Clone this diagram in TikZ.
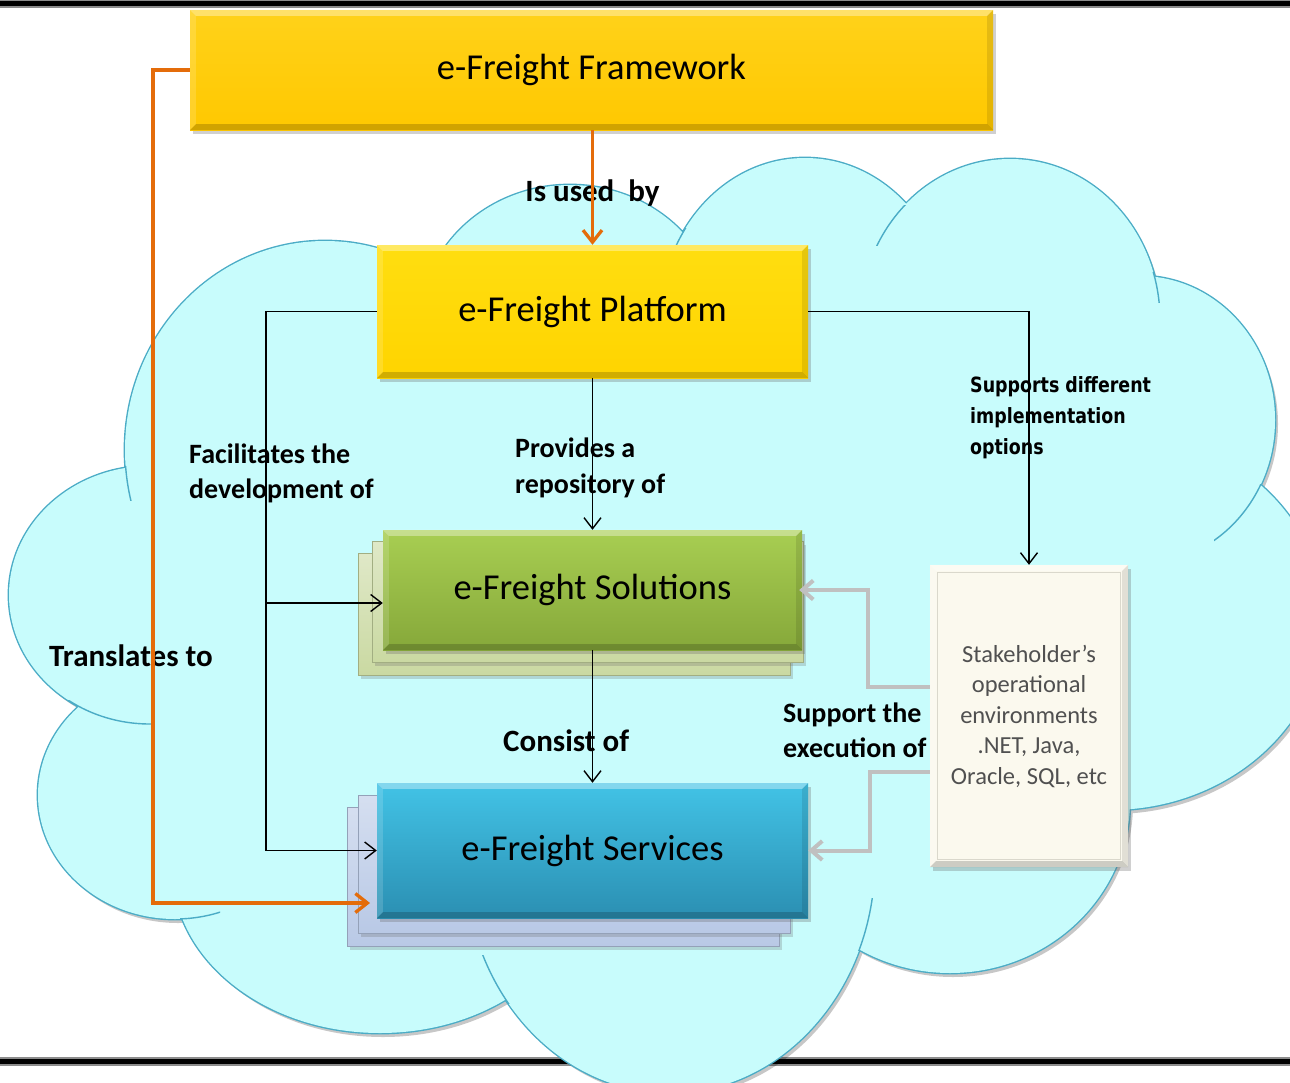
\documentclass[tikz,border=0pt]{standalone}
\usepackage{fontspec}
\setmainfont{Carlito}
\newfontfamily\vfont[FakeStretch=0.83]{DejaVu Sans}
\usetikzlibrary{arrows.meta,calc,shadows}
\definecolor{cloudfill}{RGB}{200,252,252}
\definecolor{cloudline}{RGB}{75,172,198}
\definecolor{orng}{RGB}{228,108,10}
\definecolor{gryarr}{RGB}{192,192,192}
\definecolor{fwtop}{RGB}{255,210,26}
\definecolor{fwbot}{RGB}{255,200,0}
\definecolor{pftop}{RGB}{255,222,16}
\definecolor{pfbot}{RGB}{255,212,0}
\definecolor{soltop}{RGB}{168,206,82}
\definecolor{solbot}{RGB}{134,168,58}
\definecolor{solcopy}{RGB}{202,217,162}
\definecolor{srvtop}{RGB}{66,195,230}
\definecolor{srvbot}{RGB}{43,143,178}
\definecolor{srvcopy}{RGB}{185,201,230}
\definecolor{stkfill}{RGB}{251,249,238}
\definecolor{stkline}{RGB}{218,216,204}
\definecolor{stktext}{RGB}{80,80,80}
\newcommand\mybevel[2]{%
 \fill[white,opacity=0.35] (#1.north west) -- (#1.north east) -- ($(#1.north east)+(-#2,#2)$) -- ($(#1.north west)+(#2,#2)$) -- cycle;
 \fill[white,opacity=0.15] (#1.north west) -- ($(#1.north west)+(#2,#2)$) -- ($(#1.south west)+(#2,-#2)$) -- (#1.south west) -- cycle;
 \fill[black,opacity=0.18] (#1.south west) -- (#1.south east) -- ($(#1.south east)+(-#2,-#2)$) -- ($(#1.south west)+(#2,-#2)$) -- cycle;
 \fill[black,opacity=0.10] (#1.north east) -- (#1.south east) -- ($(#1.south east)+(-#2,-#2)$) -- ($(#1.north east)+(-#2,#2)$) -- cycle;}
\tikzset{
 box/.style={rectangle, inner sep=0pt, font=\fontsize{36.5}{40}\selectfont, text=black,
   drop shadow={shadow xshift=3pt, shadow yshift=-4pt, opacity=0.3, fill=black!60}},
 copybox/.style={rectangle, inner sep=0pt, draw=#1!80!black, line width=0.6pt,
   top color=#1!60!white, bottom color=#1,
   drop shadow={shadow xshift=3pt, shadow yshift=-4pt, opacity=0.25, fill=black!60}},
 lblA/.style={inner sep=0pt, anchor=base west, font=\fontsize{28}{30}\selectfont\bfseries},
 lblB/.style={inner sep=0pt, anchor=base west, font=\fontsize{31}{33}\selectfont\bfseries},
 lblV/.style={inner sep=0pt, anchor=base west, font=\vfont\fontsize{21}{24}\selectfont\bfseries},
 blk/.style={draw=black, line width=1.4pt, -{Straight Barb[length=11pt,width=17pt]}},
 org/.style={draw=orng, line width=3.3pt, -{Straight Barb[length=12pt,width=19pt]}},
 gry/.style={draw=gryarr, line width=4pt, -{Straight Barb[length=11pt,width=19pt]}},
 cl/.style={draw=cloudline, line width=1.4pt}
}
\def\lobelist{325/450/200/209, 150/595/141/129, 175/795/137/124, 380/870/207/163, 670/860/205/233, 950/800/180/173, 1110/620/214/190, 1140/420/135/144, 1010/320/150/161, 805/320/145/162, 570/325/150/140}
\begin{document}
\begin{tikzpicture}[x=1pt,y=-1pt]
\useasboundingbox (0,0) rectangle (1290,1082);
\clip (0,0) rectangle (1290,1082);
\fill[white] (0,0) rectangle (1290,1082);
% frame bars
\fill[black!45] (0,0) rectangle (1290,8);
\fill[black] (0,1) rectangle (1290,6);
\fill[black!45] (0,1057) rectangle (1290,1066);
\fill[black] (0,1059) rectangle (1290,1064);
% cloud
\fill[black, opacity=0.22] foreach \x/\y/\a/\b in \lobelist {(\x+3,\y+4) ellipse [x radius=\a, y radius=\b]};
\filldraw[fill=cloudfill, draw=cloudline, line width=2.8pt] foreach \x/\y/\a/\b in \lobelist {(\x,\y) ellipse [x radius=\a, y radius=\b]};
\fill[cloudfill] foreach \x/\y/\a/\b in \lobelist {(\x,\y) ellipse [x radius=\a, y radius=\b]};
\fill[cloudfill] (145,472) -- (95,705) -- (190,905) -- (505,985) -- (855,935) -- (1110,800) -- (1245,490) -- (1150,292) -- (903,222) -- (683,248) -- (430,285) -- cycle;
\foreach \cx/\cy/\a/\b/\xa/\ya/\xb/\yb in {325/450/200/209/118/466/145/500, 150/595/141/129/68/700/152/727, 175/795/137/124/180/900/220/925, 670/860/205/233/478/955/510/1003, 670/860/205/233/855/898/880/950, 805/320/145/162/672/228/690/246, 1010/320/150/161/876/205/906/245, 1010/320/150/161/1148/272/1168/302, 1140/420/135/144/1214/484/1266/545}{
 \begin{scope}
 \clip (\xa,\ya) rectangle (\xb,\yb);
 \draw[cl] (\cx,\cy) ellipse [x radius=\a, y radius=\b];
 \end{scope}}
% stacked copies
\node[copybox=solcopy, minimum width=432pt, minimum height=122pt] (sol3) at (574,614) {};
\node[copybox=solcopy, minimum width=431pt, minimum height=121pt] (sol2) at (587.5,601.5) {};
\node[copybox=srvcopy, minimum width=432pt, minimum height=139pt] (srv3) at (563,876.5) {};
\node[copybox=srvcopy, minimum width=432pt, minimum height=138pt] (srv2) at (574,864) {};
% main boxes
\node[box, minimum width=803pt, minimum height=120pt, top color=fwtop, bottom color=fwbot] (fw) at (591.5,70) {e-Freight Framework};
\mybevel{fw}{6}
\node[box, minimum width=431pt, minimum height=133pt, top color=pftop, bottom color=pfbot] (pf) at (592.5,311.5) {e-Freight Platform};
\mybevel{pf}{6}
\node[box, minimum width=419pt, minimum height=120pt, top color=soltop, bottom color=solbot] (sol) at (592.5,590) {e-Freight Solutions};
\mybevel{sol}{6}
\node[box, minimum width=431pt, minimum height=135pt, top color=srvtop, bottom color=srvbot] (srv) at (592.5,850.5) {e-Freight Services};
\mybevel{srv}{6}
\node[rectangle, inner sep=0pt, minimum width=198pt, minimum height=302pt, fill=stkfill,
  drop shadow={shadow xshift=3pt, shadow yshift=-4pt, opacity=0.3, fill=black!60},
  text=stktext, align=center, font=\fontsize{24.5}{30.5}\selectfont] (stk) at (1029,716)
  {Stakeholder’s\\operational\\environments\\.NET, Java,\\Oracle, SQL, etc};
\mybevel{stk}{6}
\draw[stkline, line width=1.2pt] ($(stk.north west)+(8,8)$) rectangle ($(stk.south east)+(-8,-8)$);
% labels
\node[lblB, anchor=base] (lused) at (592.5,201) {Is used\ \ by};
\node[lblA] (lprov1) at (515,457) {Provides a};
\node[lblA] (lprov2) at (515,493) {repository of};
\node[lblA] (lfac1) at (189,463) {Facilitates the};
\node[lblA] (lfac2) at (189,498) {development of};
\node[lblB] (ltrans) at (49,666) {Translates to};
\node[lblA] (lsup1) at (783,722) {Support the};
\node[lblA] (lsup2) at (783,757) {execution of};
\node[lblB] (lcons) at (503,751) {Consist of};
\node[lblV] (lopt1) at (970,392) {Supports different};
\node[lblV] (lopt2) at (970,423) {implementation};
\node[lblV] (lopt3) at (970,454) {options};
% connectors
\coordinate (ol) at (153,70);
\coordinate (oend) at (370,903);
\coordinate (jl) at ($(pf.west)+(-111,0)$);
\draw[org] (fw.west) -- (ol) |- (oend);
\draw[org] (pf.north |- fw.south) -- (pf.north);
\draw[blk] (pf.west) -- (jl) |- (srv.west);
\draw[blk] ($(jl |- sol.west)+(0,13)$) -- ($(sol.west)+(0,13)$);
\draw[blk] (pf.south) -- (sol.north);
\draw[blk] (sol.south) -- (srv.north);
\draw[blk] (pf.east) -| (stk.north);
\draw[gry, shorten >=-3pt] ($(stk.west)+(0,-29)$) -- ++(-62,0) |- (sol.east);
\draw[gry] ($(stk.west)+(0,56)$) -- ++(-60,0) |- (srv.east);
\end{tikzpicture}
\end{document}
